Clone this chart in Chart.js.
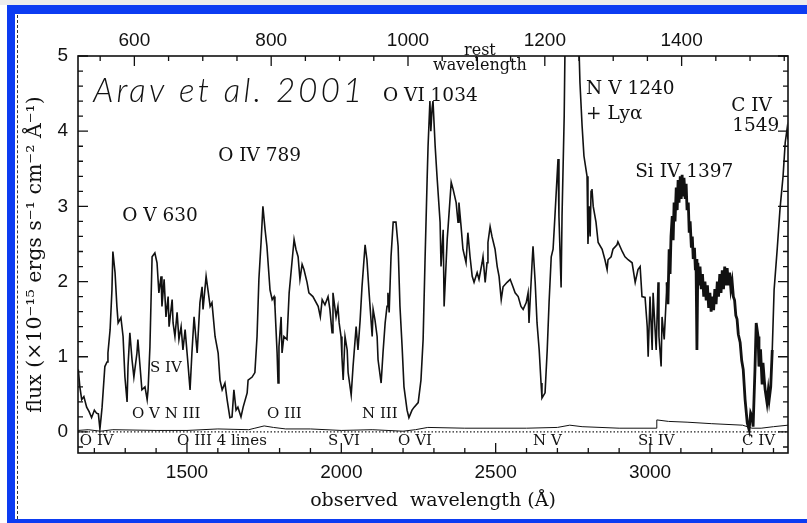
<!DOCTYPE html>
<html>
<head>
<meta charset="utf-8">
<script src="https://cdn.jsdelivr.net/npm/chart.js@4.4.1/dist/chart.umd.min.js"></script>
<style>
  html, body { margin: 0; padding: 0; background: #fff; }
  body { width: 807px; height: 523px; position: relative; overflow: hidden; }
  .strip { position: absolute; left: 0; top: 0; width: 807px; height: 5px; background: #ececec; }
  .blue { position: absolute; background: #0c3cf2; }
  .dash { position: absolute; left: 17px; top: 15px; height: 504px; border-left: 1px dashed #333; }
  #spec { position: absolute; left: 0; top: 0; }
</style>
</head>
<body>
<div class="strip"></div>
<div class="blue" style="left:7px;top:5px;width:800px;height:9px"></div>
<div class="blue" style="left:7px;top:5px;width:8px;height:518px"></div>
<div class="blue" style="left:7px;top:519px;width:800px;height:4px"></div>
<div class="dash"></div>
<canvas id="spec" width="807" height="523"></canvas>
<script>
// observed wavelength (A) and flux (1e-15 erg/s/cm2/A)
const obsWave = [
  1148, 1153, 1159, 1166, 1175, 1183, 1191, 1200, 1207, 1213, 1218, 1222, 1225, 1234, 1241, 1244,
  1251, 1257, 1260, 1267, 1273, 1277, 1286, 1293, 1299, 1306, 1309, 1315, 1322, 1328, 1338, 1341,
  1348, 1354, 1364, 1371, 1374, 1380, 1387, 1396, 1403, 1409, 1416, 1419, 1426, 1432, 1439, 1442,
  1452, 1455, 1461, 1468, 1474, 1481, 1487, 1494, 1503, 1510, 1516, 1523, 1533, 1542, 1549, 1552,
  1562, 1568, 1575, 1581, 1591, 1601, 1607, 1614, 1623, 1630, 1639, 1646, 1652, 1659, 1665, 1675,
  1682, 1695, 1698, 1711, 1720, 1727, 1733, 1740, 1746, 1753, 1759, 1769, 1776, 1782, 1785, 1792,
  1795, 1798, 1805, 1808, 1814, 1824, 1831, 1840, 1847, 1853, 1860, 1866, 1873, 1879, 1889, 1895,
  1908, 1925, 1932, 1938, 1947, 1957, 1963, 1970, 1973, 1983, 1989, 1993, 1999, 2002, 2006, 2012,
  2019, 2022, 2032, 2038, 2048, 2054, 2061, 2067, 2077, 2083, 2090, 2100, 2103, 2109, 2116, 2119,
  2129, 2135, 2142, 2148, 2151, 2155, 2161, 2168, 2177, 2184, 2190, 2197, 2203, 2213, 2219, 2229,
  2236, 2249, 2258, 2265, 2271, 2278, 2281, 2287, 2290, 2294, 2297, 2304, 2310, 2320, 2323, 2330,
  2333, 2343, 2346, 2356, 2362, 2372, 2378, 2381, 2388, 2394, 2404, 2410, 2417, 2424, 2430, 2440,
  2446, 2456, 2459, 2466, 2472, 2475, 2482, 2488, 2498, 2505, 2511, 2518, 2524, 2537, 2547, 2556,
  2563, 2573, 2582, 2589, 2599, 2605, 2608, 2618, 2621, 2628, 2634, 2641, 2647, 2650, 2660, 2667,
  2673, 2680, 2686, 2692, 2702, 2705, 2712, 2715, 2722, 2726, 2740, 2760, 2768, 2773, 2780, 2786,
  2796, 2799, 2803, 2806, 2809, 2812, 2816, 2825, 2832, 2845, 2854, 2861, 2864, 2874, 2880, 2893,
  2896, 2910, 2919, 2929, 2942, 2952, 2961, 2968, 2974, 2984, 2991, 2994, 3000, 3007, 3010, 3020,
  3026, 3029, 3036, 3039, 3046, 3055, 3058, 3062, 3065, 3068, 3072, 3075, 3078, 3081, 3085, 3088,
  3091, 3094, 3098, 3101, 3104, 3107, 3110, 3114, 3117, 3120, 3124, 3127, 3130, 3134, 3137, 3140,
  3144, 3147, 3149, 3152, 3155, 3158, 3162, 3166, 3170, 3174, 3178, 3182, 3186, 3190, 3194, 3198,
  3202, 3206, 3210, 3214, 3218, 3222, 3226, 3230, 3234, 3238, 3242, 3246, 3250, 3254, 3258, 3262,
  3266, 3270, 3274, 3278, 3282, 3286, 3292, 3297, 3302, 3308, 3315, 3321, 3326, 3331, 3334, 3340,
  3344, 3350, 3353, 3358, 3363, 3366, 3370, 3373, 3379, 3383, 3386, 3391, 3396, 3402, 3412, 3421,
  3431, 3438, 3444, 3447
];
const flux = [
  0.83, 0.60, 0.43, 0.47, 0.33, 0.27, 0.19, 0.29, 0.25, 0.24, 0.04, 0.20, 0.33, 0.87, 0.93, 1.05,
  1.36, 1.89, 2.40, 2.12, 1.67, 1.45, 1.52, 1.27, 0.73, 0.40, 0.87, 1.32, 0.96, 0.73, 1.05, 1.23,
  0.87, 0.56, 0.60, 0.43, 0.56, 1.13, 2.33, 2.38, 2.25, 1.85, 2.07, 1.67, 2.03, 1.53, 1.80, 1.40,
  1.76, 1.45, 1.27, 1.59, 1.23, 1.40, 1.09, 1.36, 0.92, 0.56, 1.05, 1.53, 1.05, 1.72, 1.93, 1.63,
  2.07, 1.89, 1.67, 1.72, 1.27, 1.05, 0.69, 0.56, 0.65, 0.43, 0.19, 0.20, 0.56, 0.29, 0.33, 0.20,
  0.33, 0.52, 0.69, 0.73, 0.79, 1.27, 2.03, 2.52, 3.00, 2.69, 2.47, 1.89, 1.76, 1.80, 1.67, 1.05,
  0.65, 1.13, 1.53, 1.05, 1.27, 1.23, 1.85, 2.25, 2.56, 2.43, 2.33, 2.03, 2.23, 2.16, 1.99, 1.85,
  1.80, 1.67, 1.53, 1.76, 1.69, 1.80, 1.63, 1.32, 1.85, 1.53, 1.67, 1.45, 1.27, 1.00, 0.69, 1.27,
  1.09, 0.79, 0.49, 0.87, 1.40, 1.09, 1.49, 1.93, 2.49, 2.29, 1.85, 1.27, 1.63, 1.49, 1.27, 0.96,
  0.65, 1.05, 1.45, 1.67, 1.85, 1.59, 2.33, 2.79, 2.79, 2.47, 1.67, 1.13, 0.60, 0.29, 0.19, 0.29,
  0.33, 0.39, 0.69, 1.23, 2.25, 3.36, 3.80, 4.40, 4.00, 4.30, 4.40, 3.80, 3.40, 2.79, 2.20, 2.69,
  1.67, 2.56, 2.73, 3.32, 3.23, 3.05, 2.79, 3.05, 2.73, 2.43, 2.25, 2.65, 2.33, 2.07, 1.99, 2.12,
  2.03, 2.25, 2.33, 1.99, 2.25, 2.52, 2.73, 2.60, 2.43, 2.20, 2.07, 1.76, 1.93, 1.99, 2.03, 1.93,
  1.85, 1.80, 1.67, 1.63, 1.72, 1.85, 1.45, 2.25, 2.47, 1.99, 1.45, 1.09, 0.65, 0.45, 0.52, 1.09,
  1.72, 2.33, 2.43, 2.87, 3.63, 2.87, 1.92, 2.87, 4.20, 5.60, 6.50, 6.20, 5.40, 4.65, 4.07, 3.67,
  3.40, 2.50, 3.00, 2.60, 3.20, 3.23, 3.00, 2.79, 2.52, 2.43, 2.29, 2.16, 2.29, 2.33, 2.43, 2.49,
  2.53, 2.40, 2.33, 2.29, 2.25, 1.99, 2.16, 2.20, 1.80, 1.79, 1.40, 1.00, 1.80, 1.09, 1.85, 1.09,
  1.99, 1.27, 0.87, 1.53, 1.23, 1.99, 1.70, 2.43, 2.10, 2.60, 2.87, 2.55, 3.05, 2.80, 3.25, 2.95,
  3.35, 3.05, 3.40, 3.10, 3.42, 3.15, 3.38, 3.10, 3.30, 2.95, 3.05, 2.65, 2.80, 2.45, 2.60, 2.30,
  2.45, 2.15, 2.30, 1.09, 2.25, 1.95, 2.20, 1.90, 2.10, 1.80, 2.00, 1.75, 1.95, 1.65, 1.85, 1.60,
  1.80, 1.62, 1.90, 1.70, 2.00, 1.80, 2.10, 1.85, 2.15, 1.90, 2.20, 1.95, 2.18, 1.95, 2.12, 1.90,
  2.00, 1.80, 1.75, 1.55, 1.50, 1.30, 1.19, 0.95, 0.83, 0.43, 0.12, 0.03, 0.25, 0.20, 0.07, 0.83,
  1.45, 1.27, 0.87, 1.10, 0.65, 0.92, 0.70, 0.56, 0.39, 0.55, 0.43, 0.60, 1.09, 1.89, 2.43, 2.96,
  3.40, 3.85, 4.03, 3.89
];

// error spectrum near the zero level
const errWave = [1147, 1180, 1220, 1260, 1400, 1500, 1600, 1700, 1720, 1750, 1780, 1820, 1900, 2000, 2100,
  2200, 2240, 2280, 2400, 2600, 2700, 2740, 2780, 2900, 3020, 3022, 3060, 3120, 3200, 3300, 3330, 3360,
  3400, 3447];
const errFlux = [0.02, 0.03, 0.01, 0.03, 0.02, 0.02, 0.04, 0.03, 0.05, 0.08, 0.06, 0.04, 0.04, 0.02, 0.03,
  0.01, 0.03, 0.06, 0.05, 0.05, 0.06, 0.09, 0.07, 0.05, 0.05, 0.16, 0.14, 0.13, 0.11, 0.09, 0.05, 0.05,
  0.07, 0.09];

const redshift = 1.216;
const obsRange = [1147, 3447];
const fluxRange = [-0.28, 5];
const obsTicks = [1500, 2000, 2500, 3000];
const restTicks = [600, 800, 1000, 1200, 1400];
const fluxTicks = [0, 1, 2, 3, 4, 5];
const noisyStretch = [3050, 3400];

// line identifications: text anchored at (observed wavelength, flux), left/baseline
const emissionLabels = [
  { text: 'O V 630', wave: 1290, flux: 2.80 },
  { text: 'O IV 789', wave: 1601, flux: 3.60 },
  { text: 'O VI 1034', wave: 2135, flux: 4.40 },
  { text: 'N V 1240', wave: 2793, flux: 4.49 },
  { text: '+ Lyα', wave: 2793, flux: 4.16 },
  { text: 'Si IV 1397', wave: 2952, flux: 3.39 },
  { text: 'C IV', wave: 3263, flux: 4.27 },
  { text: '1549', wave: 3266, flux: 4.00 }
];
const absorptionLabels = [
  { text: 'O IV', wave: 1153, flux: -0.17 },
  { text: 'O V N III', wave: 1322, flux: 0.19 },
  { text: 'S IV', wave: 1380, flux: 0.80 },
  { text: 'O III 4 lines', wave: 1468, flux: -0.17 },
  { text: 'O III', wave: 1759, flux: 0.19 },
  { text: 'S VI', wave: 1957, flux: -0.17 },
  { text: 'N III', wave: 2067, flux: 0.19 },
  { text: 'O VI', wave: 2184, flux: -0.17 },
  { text: 'N V', wave: 2621, flux: -0.17 },
  { text: 'Si IV', wave: 2961, flux: -0.17 },
  { text: 'C IV', wave: 3298, flux: -0.17 }
];
const citation = { text: 'Arav et al. 2001', wave: 1196, flux: 4.39 };
const restTitle = { wave: 2449, lines: [['rest', 5.01], ['wavelength', 4.81]] };

const ink = '#111';
const serif = 'DejaVu Serif';

function pts(xs, ys) {
  return xs.map((x, i) => ({ x: x, y: ys[i] }));
}
function fixTicks(values) {
  return scale => { scale.ticks = values.map(v => ({ value: v })); };
}

// box with inward ticks on all four sides, plus the line labels
const axisBox = {
  id: 'axisBox',
  afterDraw(chart) {
    const { ctx, chartArea: a, scales } = chart;
    ctx.save();
    ctx.strokeStyle = ink;
    ctx.lineWidth = 1.6;
    ctx.strokeRect(a.left, a.top, a.right - a.left, a.bottom - a.top);
    ctx.lineWidth = 1.3;
    ctx.beginPath();
    for (let v = 1200; v <= 3400; v += 100) {
      const px = scales.x.getPixelForValue(v);
      const len = v % 500 === 0 ? 10 : 5;
      ctx.moveTo(px, a.bottom); ctx.lineTo(px, a.bottom - len);
    }
    for (let v = 550; v <= 1550; v += 50) {
      const px = scales.xTop.getPixelForValue(v);
      if (px < a.left || px > a.right) continue;
      const len = v % 200 === 0 ? 10 : 5;
      ctx.moveTo(px, a.top); ctx.lineTo(px, a.top + len);
    }
    for (let k = -1; k <= 25; k++) {
      const py = scales.y.getPixelForValue(k * 0.2);
      if (py > a.bottom || py < a.top) continue;
      const len = k % 5 === 0 ? 10 : 5;
      ctx.moveTo(a.left, py); ctx.lineTo(a.left + len, py);
      ctx.moveTo(a.right, py); ctx.lineTo(a.right - len, py);
    }
    ctx.stroke();

    const X = v => scales.x.getPixelForValue(v);
    const Y = v => scales.y.getPixelForValue(v);
    ctx.fillStyle = ink;
    ctx.textBaseline = 'alphabetic';
    ctx.textAlign = 'left';
    ctx.font = '18.5px "' + serif + '"';
    emissionLabels.forEach(l => ctx.fillText(l.text, X(l.wave), Y(l.flux)));
    ctx.font = '15px "' + serif + '"';
    absorptionLabels.forEach(l => ctx.fillText(l.text, X(l.wave), Y(l.flux)));
    ctx.textAlign = 'center';
    ctx.font = '16px "' + serif + '"';
    restTitle.lines.forEach(([t, f]) => ctx.fillText(t, X(restTitle.wave), Y(f)));

    // citation in a wide light italic face
    ctx.textAlign = 'left';
    ctx.font = 'italic 300 33px Lato';
    const want = 269;
    const w = ctx.measureText(citation.text).width;
    if ('letterSpacing' in ctx) {
      ctx.letterSpacing = ((want - w) / (citation.text.length - 1)).toFixed(2) + 'px';
      ctx.fillText(citation.text, X(citation.wave), Y(citation.flux));
    } else {
      ctx.translate(X(citation.wave), Y(citation.flux));
      ctx.scale(want / w, 1);
      ctx.fillText(citation.text, 0, 0);
    }
    ctx.restore();
  }
};

const tickFont = { family: 'Liberation Sans', size: 19 };
const noGrid = { display: false, drawTicks: false };

new Chart(document.getElementById('spec'), {
  type: 'line',
  data: {
    datasets: [
      {
        data: pts(obsWave, flux),
        borderColor: ink,
        borderWidth: 1.6,
        pointRadius: 0,
        tension: 0,
        segment: {
          borderWidth: c => (c.p0.parsed.x >= noisyStretch[0] && c.p1.parsed.x <= noisyStretch[1]) ? 2.8 : 1.6
        }
      },
      {
        data: pts(errWave, errFlux),
        borderColor: ink,
        borderWidth: 1,
        pointRadius: 0
      },
      {
        data: pts(obsRange, [0, 0]),
        borderColor: '#222',
        borderWidth: 1.2,
        borderDash: [1.5, 2],
        pointRadius: 0
      }
    ]
  },
  options: {
    responsive: false,
    animation: false,
    layout: { padding: { left: 18, right: 19, top: 0, bottom: 0 } },
    plugins: { legend: { display: false }, tooltip: { enabled: false } },
    scales: {
      x: {
        type: 'linear',
        position: 'bottom',
        min: obsRange[0],
        max: obsRange[1],
        afterBuildTicks: fixTicks(obsTicks),
        afterFit: s => { s.height = 70; },
        grid: noGrid,
        border: { display: false },
        ticks: { font: tickFont, color: ink, padding: 8, maxRotation: 0, autoSkip: false, callback: v => String(v) },
        title: {
          display: true,
          text: 'observed  wavelength (Å)',
          font: { family: serif, size: 19 },
          color: ink,
          padding: { top: 0, bottom: 11 }
        }
      },
      xTop: {
        type: 'linear',
        position: 'top',
        min: obsRange[0] / (1 + redshift),
        max: obsRange[1] / (1 + redshift),
        afterBuildTicks: fixTicks(restTicks),
        afterFit: s => { s.height = 56; },
        grid: noGrid,
        border: { display: false },
        ticks: { font: tickFont, color: ink, padding: 4, maxRotation: 0, autoSkip: false, callback: v => String(v) }
      },
      y: {
        min: fluxRange[0],
        max: fluxRange[1],
        afterBuildTicks: fixTicks(fluxTicks),
        afterFit: s => { s.width = 60; },
        grid: noGrid,
        border: { display: false },
        ticks: { font: tickFont, color: ink, padding: 10, callback: v => String(v) },
        title: {
          display: true,
          text: 'flux (×10⁻¹⁵ ergs s⁻¹ cm⁻² Å⁻¹)',
          font: { family: serif, size: 20.5 },
          color: ink,
          padding: { top: 5, bottom: 0 }
        }
      }
    }
  },
  plugins: [axisBox]
});
</script>
</body>
</html>
